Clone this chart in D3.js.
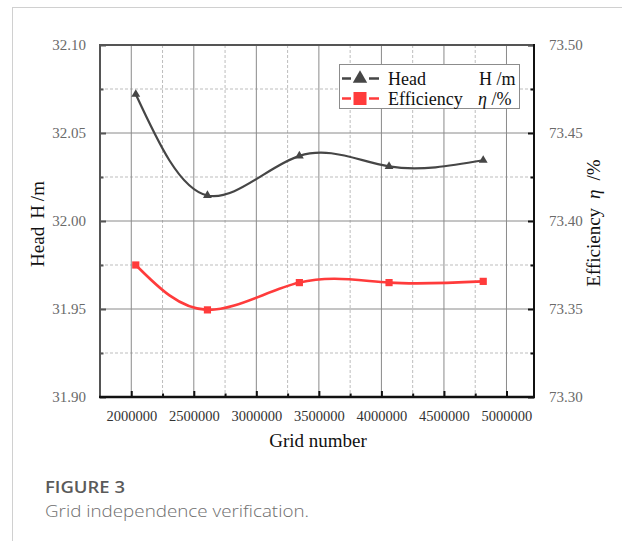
<!DOCTYPE html>
<html>
<head>
<meta charset="utf-8">
<script src="https://cdn.jsdelivr.net/npm/d3@7"></script>
<style>
  html, body { margin: 0; padding: 0; background: #fff; }
  svg { display: block; }
  .tick text { font-family: "Liberation Serif", "Times New Roman", serif !important; }
</style>
</head>
<body>
<svg id="chart" width="622" height="541"></svg>
<script>
// Mesh sizes tested and the resulting pump performance
const gridNumbers = [2036000, 2609000, 3344000, 4061000, 4814000];
const headValues = [32.072, 32.0145, 32.037, 32.031, 32.0345];
const efficiencyValues = [73.375, 73.3495, 73.365, 73.365, 73.3657];

const xTickValues = [2000000, 2500000, 3000000, 3500000, 4000000, 4500000, 5000000];
const xMinorValues = [2250000, 2750000, 3250000, 3750000, 4250000, 4750000];
const headTickValues = [31.90, 31.95, 32.00, 32.05, 32.10];
const headMinorValues = [31.925, 31.975, 32.025, 32.075];
const effTickValues = [73.30, 73.35, 73.40, 73.45, 73.50];
const effMinorValues = [73.325, 73.375, 73.425, 73.475];

const SERIF = "Liberation Serif, Times New Roman, serif";
const SANS = "Open Sans, Lato, sans-serif";

const svg = d3.select("#chart");
const plotL = 100, plotR = 534, plotT = 45, plotB = 397;

const x = d3.scaleLinear().domain([1750000, 5220000]).range([plotL, plotR]);
const yHead = d3.scaleLinear().domain([31.90, 32.10]).range([plotB, plotT]);
const yEff = d3.scaleLinear().domain([73.30, 73.50]).range([plotB, plotT]);

// Page frame
svg.append("line").attr("x1", 12).attr("x2", 622).attr("y1", 7.5).attr("y2", 7.5)
  .attr("stroke", "#d0d0d0").attr("stroke-width", 1);
svg.append("line").attr("x1", 12.5).attr("x2", 12.5).attr("y1", 7).attr("y2", 541)
  .attr("stroke", "#d0d0d0").attr("stroke-width", 1);

// Grid
const grid = svg.append("g");
grid.selectAll(".vmin").data(xMinorValues).join("line")
  .attr("x1", d => x(d)).attr("x2", d => x(d)).attr("y1", plotT).attr("y2", plotB)
  .attr("stroke", "#bdbdbd").attr("stroke-width", 1).attr("stroke-dasharray", "3,2");
grid.selectAll(".hmin").data(headMinorValues).join("line")
  .attr("x1", plotL).attr("x2", plotR).attr("y1", d => yHead(d)).attr("y2", d => yHead(d))
  .attr("stroke", "#bdbdbd").attr("stroke-width", 1).attr("stroke-dasharray", "3,2");
grid.selectAll(".vmaj").data(xTickValues).join("line")
  .attr("x1", d => x(d)).attr("x2", d => x(d)).attr("y1", plotT).attr("y2", plotB)
  .attr("stroke", "#8a8a8a").attr("stroke-width", 1);
grid.selectAll(".hmaj").data(headTickValues.slice(1, -1)).join("line")
  .attr("x1", plotL).attr("x2", plotR).attr("y1", d => yHead(d)).attr("y2", d => yHead(d))
  .attr("stroke", "#8a8a8a").attr("stroke-width", 1);

// Axes (ticks point inward)
const fmt2 = d3.format(".2f");
const axLeft = svg.append("g").attr("transform", `translate(${plotL},0)`)
  .call(d3.axisLeft(yHead).tickValues(headTickValues).tickFormat(fmt2).tickSizeInner(-6).tickSizeOuter(0).tickPadding(14));
const axLeftMinor = svg.append("g").attr("transform", `translate(${plotL},0)`)
  .call(d3.axisLeft(yHead).tickValues(headMinorValues).tickFormat("").tickSizeInner(-3.5).tickSizeOuter(0));
const axRight = svg.append("g").attr("transform", `translate(${plotR},0)`)
  .call(d3.axisRight(yEff).tickValues(effTickValues).tickFormat(fmt2).tickSizeInner(-6).tickSizeOuter(0).tickPadding(15));
const axRightMinor = svg.append("g").attr("transform", `translate(${plotR},0)`)
  .call(d3.axisRight(yEff).tickValues(effMinorValues).tickFormat("").tickSizeInner(-3.5).tickSizeOuter(0));
const axBottom = svg.append("g").attr("transform", `translate(0,${plotB})`)
  .call(d3.axisBottom(x).tickValues(xTickValues).tickFormat(d3.format("d")).tickSizeInner(-6).tickSizeOuter(0).tickPadding(14));
const axBottomMinor = svg.append("g").attr("transform", `translate(0,${plotB})`)
  .call(d3.axisBottom(x).tickValues(xMinorValues).tickFormat("").tickSizeInner(-3.5).tickSizeOuter(0));

[axLeft, axLeftMinor].forEach(g => { g.select(".domain").remove(); g.selectAll("line").attr("stroke", "#555").attr("stroke-width", 2); });
[axRight, axRightMinor].forEach(g => { g.select(".domain").remove(); g.selectAll("line").attr("stroke", "#111").attr("stroke-width", 2); });
[axBottom, axBottomMinor].forEach(g => { g.select(".domain").remove(); g.selectAll("line").attr("stroke", "#111").attr("stroke-width", 2); });

[axLeft, axRight].forEach(g => g.selectAll(".tick text")
  .style("font-family", SERIF).style("font-size", "15px").attr("fill", "#6a6a6a"));
axBottom.selectAll(".tick text")
  .style("font-family", SERIF).style("font-size", "14.5px").attr("fill", "#333").attr("dy", "0.71em");

// Frame lines
svg.append("line").attr("x1", plotL - 1).attr("x2", plotR + 1).attr("y1", plotT).attr("y2", plotT)
  .attr("stroke", "#555").attr("stroke-width", 2);
svg.append("line").attr("x1", plotL).attr("x2", plotL).attr("y1", plotT - 1).attr("y2", plotB)
  .attr("stroke", "#555").attr("stroke-width", 2);
svg.append("line").attr("x1", plotR).attr("x2", plotR).attr("y1", plotT - 1).attr("y2", plotB + 1)
  .attr("stroke", "#111").attr("stroke-width", 2);
svg.append("line").attr("x1", plotL - 1).attr("x2", plotR + 1).attr("y1", plotB).attr("y2", plotB)
  .attr("stroke", "#111").attr("stroke-width", 2.5);

// Series
const headColor = "#464646", effColor = "#ff3b3b";
const headLine = d3.line().x((d, i) => x(gridNumbers[i])).y(d => yHead(d)).curve(d3.curveNatural);
const effLine = d3.line().x((d, i) => x(gridNumbers[i])).y(d => yEff(d)).curve(d3.curveNatural);

svg.append("path").attr("d", headLine(headValues)).attr("fill", "none")
  .attr("stroke", headColor).attr("stroke-width", 2.2);
svg.append("path").attr("d", effLine(efficiencyValues)).attr("fill", "none")
  .attr("stroke", effColor).attr("stroke-width", 2.6);

const tri = d3.symbol().type(d3.symbolTriangle);
svg.selectAll(".hm").data(headValues).join("path")
  .attr("d", tri.size(34)())
  .attr("transform", (d, i) => `translate(${x(gridNumbers[i])},${yHead(d)})`)
  .attr("fill", headColor);
svg.selectAll(".em").data(efficiencyValues).join("rect")
  .attr("x", (d, i) => x(gridNumbers[i]) - 3.6).attr("y", d => yEff(d) - 3.6)
  .attr("width", 7.2).attr("height", 7.2).attr("fill", effColor);

// Legend
const lg = svg.append("g").style("font-family", SERIF).style("font-size", "18px").attr("fill", "#111");
lg.append("rect").attr("x", 339.5).attr("y", 64.5).attr("width", 180).attr("height", 44)
  .attr("fill", "#fff").attr("stroke", "#8c8c8c").attr("stroke-width", 1);
const legendRows = [
  { y: 78.5, color: headColor, label: "Head", marker: "tri" },
  { y: 98.5, color: effColor, label: "Efficiency", marker: "sq" }
];
legendRows.forEach(r => {
  lg.append("line").attr("x1", 342).attr("x2", 351).attr("y1", r.y).attr("y2", r.y)
    .attr("stroke", r.color).attr("stroke-width", 2.5);
  lg.append("line").attr("x1", 369).attr("x2", 379).attr("y1", r.y).attr("y2", r.y)
    .attr("stroke", r.color).attr("stroke-width", 2.5);
  if (r.marker === "tri") {
    lg.append("path").attr("d", tri.size(90)()).attr("transform", `translate(360,${r.y})`).attr("fill", r.color);
  } else {
    lg.append("rect").attr("x", 353.5).attr("y", r.y - 6.5).attr("width", 13).attr("height", 13).attr("fill", r.color);
  }
  lg.append("text").attr("x", 388).attr("y", r.y + 6).text(r.label);
});
lg.append("text").attr("x", 479).attr("y", 84.5).text("H /m");
const effUnit = lg.append("text").attr("x", 478).attr("y", 104.5);
effUnit.append("tspan").attr("font-style", "italic").text("η");
effUnit.append("tspan").text(" /%");

// Axis titles
const yt = svg.append("text").style("font-family", SERIF).style("font-size", "19px").attr("fill", "#111")
  .attr("text-anchor", "middle").attr("transform", "translate(44,224) rotate(-90)");
yt.append("tspan").text("Head");
yt.append("tspan").attr("dx", 8).text("H");
yt.append("tspan").attr("dx", 4).text("/m");

const rt = svg.append("text").style("font-family", SERIF).style("font-size", "19px").attr("fill", "#111")
  .attr("text-anchor", "middle").attr("transform", "translate(600,223) rotate(-90)");
rt.append("tspan").text("Efficiency");
rt.append("tspan").attr("dx", 9).attr("font-style", "italic").text("η");
rt.append("tspan").attr("dx", 9).text("/%");

svg.append("text").style("font-family", SERIF).style("font-size", "19px").attr("fill", "#111")
  .attr("text-anchor", "middle").attr("x", 318).attr("y", 447).text("Grid number");

// Caption
svg.append("text").attr("x", 45).attr("y", 493).style("font-family", SANS)
  .attr("font-weight", 600).style("font-size", "16px").attr("fill", "#5a5a5a")
  .attr("textLength", 80).attr("lengthAdjust", "spacingAndGlyphs").text("FIGURE 3");
svg.append("text").attr("x", 45).attr("y", 517).style("font-family", SANS)
  .attr("font-weight", 300).style("font-size", "16px").attr("fill", "#6e6e6e")
  .attr("textLength", 264).attr("lengthAdjust", "spacingAndGlyphs").text("Grid independence verification.");
</script>
</body>
</html>
